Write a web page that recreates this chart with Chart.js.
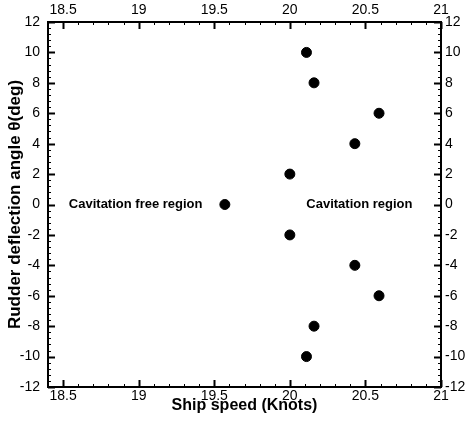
<!DOCTYPE html>
<html>
<head>
<meta charset="utf-8">
<script src="https://cdn.jsdelivr.net/npm/chart.js@4"></script>
<style>
  html, body { margin: 0; padding: 0; background: #fff; }
  #wrap { width: 470px; height: 422px; }
</style>
</head>
<body>
<div id="wrap"><canvas id="chart" width="470" height="422"></canvas></div>
<script>
// Data
const shipSpeed = [20.11, 20.16, 20.59, 20.43, 20.0, 19.57, 20.0, 20.43, 20.59, 20.16, 20.11];
const rudderAngle = [10, 8, 6, 4, 2, 0, -2, -4, -6, -8, -10];

const xMin = 18.4, xMax = 21, xStep = 0.5, xMinor = 0.1;
const yMin = -12, yMax = 12, yStep = 2, yMinor = 0.4;

// region labels: [text, x, y]
const regionLabels = [
  ["Cavitation free region", 18.98, 0],
  ["Cavitation region", 20.46, 0]
];

const tickFont = { family: "'Liberation Sans', Arial, sans-serif", size: 14 };
const xTitleFont = { family: "'Liberation Sans', Arial, sans-serif", size: 16, weight: "bold" };
const yTitleFont = { family: "'Liberation Sans', Arial, sans-serif", size: 17, weight: "bold" };

function fmt(v) {
  return Math.round(v * 10) / 10 + "";
}

// fixed axis box sizes so the frame lands where the reference has it
function fixSize(size) {
  return function (scale) {
    if (scale.isHorizontal()) scale.height = size;
    else scale.width = size;
  };
}

// ticks are drawn inward from the frame, major and minor, all four sides
const inwardTicks = {
  id: "inwardTicks",
  afterDraw(chart) {
    const ctx = chart.ctx;
    const area = chart.chartArea;
    ctx.save();
    ctx.strokeStyle = "#000";
    const xs = chart.scales.x, ys = chart.scales.y;

    function seq(min, max, step) {
      const out = [];
      const start = Math.ceil(min / step - 1e-9);
      for (let i = start; i * step <= max + 1e-9; i++) out.push(Math.round(i * step * 1000) / 1000);
      return out;
    }

    seq(xMin, xMax, xMinor).forEach(v => {
      const major = Math.abs(v / xStep - Math.round(v / xStep)) < 1e-6;
      const len = major ? 7 : 3;
      const px = Math.round(xs.getPixelForValue(v)) + 0.5;
      ctx.lineWidth = major ? 2 : 1;
      ctx.beginPath();
      ctx.moveTo(px, area.bottom); ctx.lineTo(px, area.bottom - len);
      ctx.moveTo(px, area.top); ctx.lineTo(px, area.top + len);
      ctx.stroke();
    });

    seq(yMin, yMax, yMinor).forEach(v => {
      const major = Math.abs(v / yStep - Math.round(v / yStep)) < 1e-6;
      const len = major ? 7 : 3;
      const py = Math.round(ys.getPixelForValue(v)) + 0.5;
      ctx.lineWidth = major ? 2 : 1;
      ctx.beginPath();
      ctx.moveTo(area.left, py); ctx.lineTo(area.left + len, py);
      ctx.moveTo(area.right, py); ctx.lineTo(area.right - len, py);
      ctx.stroke();
    });

    // region text
    ctx.fillStyle = "#000";
    ctx.font = "bold 13px 'Liberation Sans', Arial, sans-serif";
    ctx.textAlign = "center";
    ctx.textBaseline = "middle";
    regionLabels.forEach(([t, x, y]) => {
      ctx.fillText(t, xs.getPixelForValue(x), ys.getPixelForValue(y));
    });
    ctx.restore();
  }
};

const ctx = document.getElementById("chart").getContext("2d");

new Chart(ctx, {
  type: "scatter",
  data: {
    datasets: [{
      label: "Rudder angle",
      data: shipSpeed.map((s, i) => ({ x: s, y: rudderAngle[i] })),
      backgroundColor: "#000",
      borderColor: "#000",
      pointRadius: 5,
      pointHoverRadius: 5
    }]
  },
  options: {
    responsive: false,
    animation: false,
    layout: { padding: 0 },
    plugins: {
      legend: { display: false },
      tooltip: { enabled: false }
    },
    scales: {
      x: {
        type: "linear",
        position: "bottom",
        min: xMin, max: xMax,
        afterFit: fixSize(35),
        border: { display: true, color: "#000", width: 2 },
        grid: { drawOnChartArea: false, drawTicks: false },
        ticks: {
          stepSize: xStep, includeBounds: false, padding: 1,
          color: "#000", font: tickFont, maxRotation: 0,
          callback: v => fmt(v)
        },
        title: {
          display: true, text: "Ship speed (Knots)", color: "#000",
          font: xTitleFont, padding: { top: 0, bottom: 7 }
        }
      },
      x2: {
        type: "linear",
        position: "top",
        min: xMin, max: xMax,
        afterFit: fixSize(22),
        border: { display: true, color: "#000", width: 2 },
        grid: { drawOnChartArea: false, drawTicks: false },
        ticks: {
          stepSize: xStep, includeBounds: false, padding: 3,
          color: "#000", font: tickFont, maxRotation: 0,
          callback: v => fmt(v)
        }
      },
      y: {
        type: "linear",
        position: "left",
        min: yMin, max: yMax,
        afterFit: fixSize(48),
        border: { display: true, color: "#000", width: 2 },
        grid: { drawOnChartArea: false, drawTicks: false },
        ticks: {
          stepSize: yStep, padding: 8,
          color: "#000", font: tickFont,
          callback: v => fmt(v)
        },
        title: {
          display: true, text: "Rudder deflection angle θ(deg)", color: "#000",
          font: yTitleFont, padding: { top: 5, bottom: 0 }
        }
      },
      y2: {
        type: "linear",
        position: "right",
        min: yMin, max: yMax,
        afterFit: fixSize(29),
        border: { display: true, color: "#000", width: 2 },
        grid: { drawOnChartArea: false, drawTicks: false },
        ticks: {
          stepSize: yStep, padding: 4,
          color: "#000", font: tickFont,
          callback: v => fmt(v)
        }
      }
    }
  },
  plugins: [inwardTicks]
});
</script>
</body>
</html>
